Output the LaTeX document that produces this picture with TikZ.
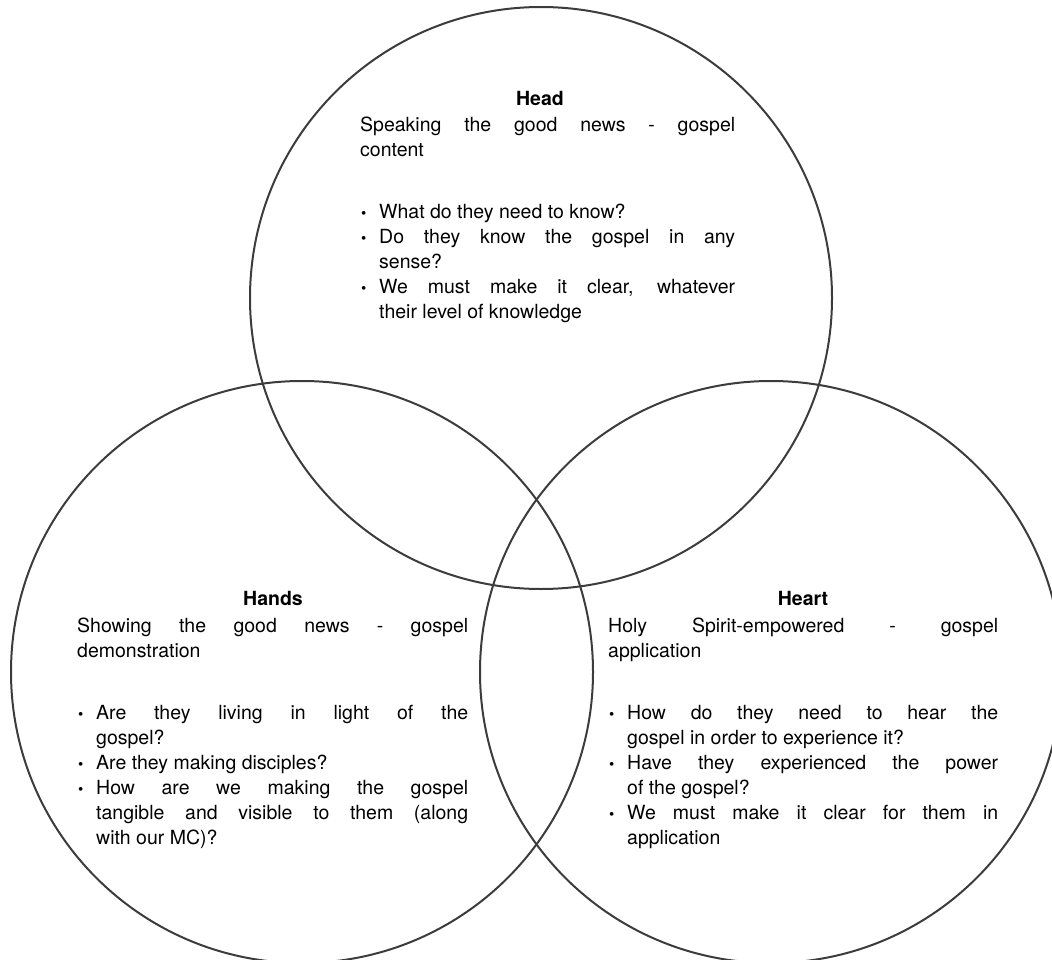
\documentclass[tikz,border=0pt]{standalone}
\usepackage{fontspec}
\setmainfont{TeX Gyre Heros}
\usetikzlibrary{positioning}

\definecolor{ringgray}{HTML}{3C3C3C}
\hyphenpenalty=10000
\exhyphenpenalty=10000
\tolerance=10000

\tikzset{
    ring/.style={draw=ringgray, line width=2pt},
    title/.style={font=\fontsize{19.5}{25}\selectfont\bfseries, inner sep=0pt},
    body/.style={font=\fontsize{19.5}{25}\selectfont, text width=#1, align=justify, inner sep=0pt, anchor=north west}
}

% bullet line with hanging indent
\newcommand{\vitem}{\par\hangindent=19pt\hangafter=1\noindent\makebox[19pt][l]{\hspace{1pt}{\fontsize{15}{15}\selectfont\textbullet}}}

\begin{document}
\begin{tikzpicture}[x=1pt, y=-1pt]
    \useasboundingbox (0,0) rectangle (1052,960);

    % Circles
    \draw[ring] (541,298) circle (291);
    \draw[ring] (302,672) circle (291);
    \draw[ring] (771,672) circle (291);

    % Head
    \node[title] (headtitle) at (540,98) {Head};
    \node[body=375pt] (headtext) at (360,117) {%
        Speaking the good news - gospel\linebreak content
        \par\vskip37pt
        \vitem What do they need to know?
        \vitem Do they know the gospel in any\linebreak sense?
        \vitem We must make it clear, whatever\linebreak their level of knowledge\par};

    % Hands
    \node[title] (handstitle) at (273,598) {Hands};
    \node[body=391pt] (handstext) at (77,618) {%
        Showing the good news - gospel\linebreak demonstration
        \par\vskip37pt
        \vitem Are they living in light of the\linebreak gospel?
        \vitem Are they making disciples?
        \vitem How are we making the gospel\linebreak tangible and visible to them (along\linebreak with our MC)?\par};

    % Heart
    \node[title] (hearttitle) at (803,598) {Heart};
    \node[body=390pt] (hearttext) at (608,618) {%
        Holy Spirit-empowered - gospel\linebreak application
        \par\vskip37pt
        \vitem How do they need to hear the\linebreak gospel in order to experience it?
        \vitem Have they experienced the power\linebreak of the gospel?
        \vitem We must make it clear for them in\linebreak application\par};
\end{tikzpicture}
\end{document}
